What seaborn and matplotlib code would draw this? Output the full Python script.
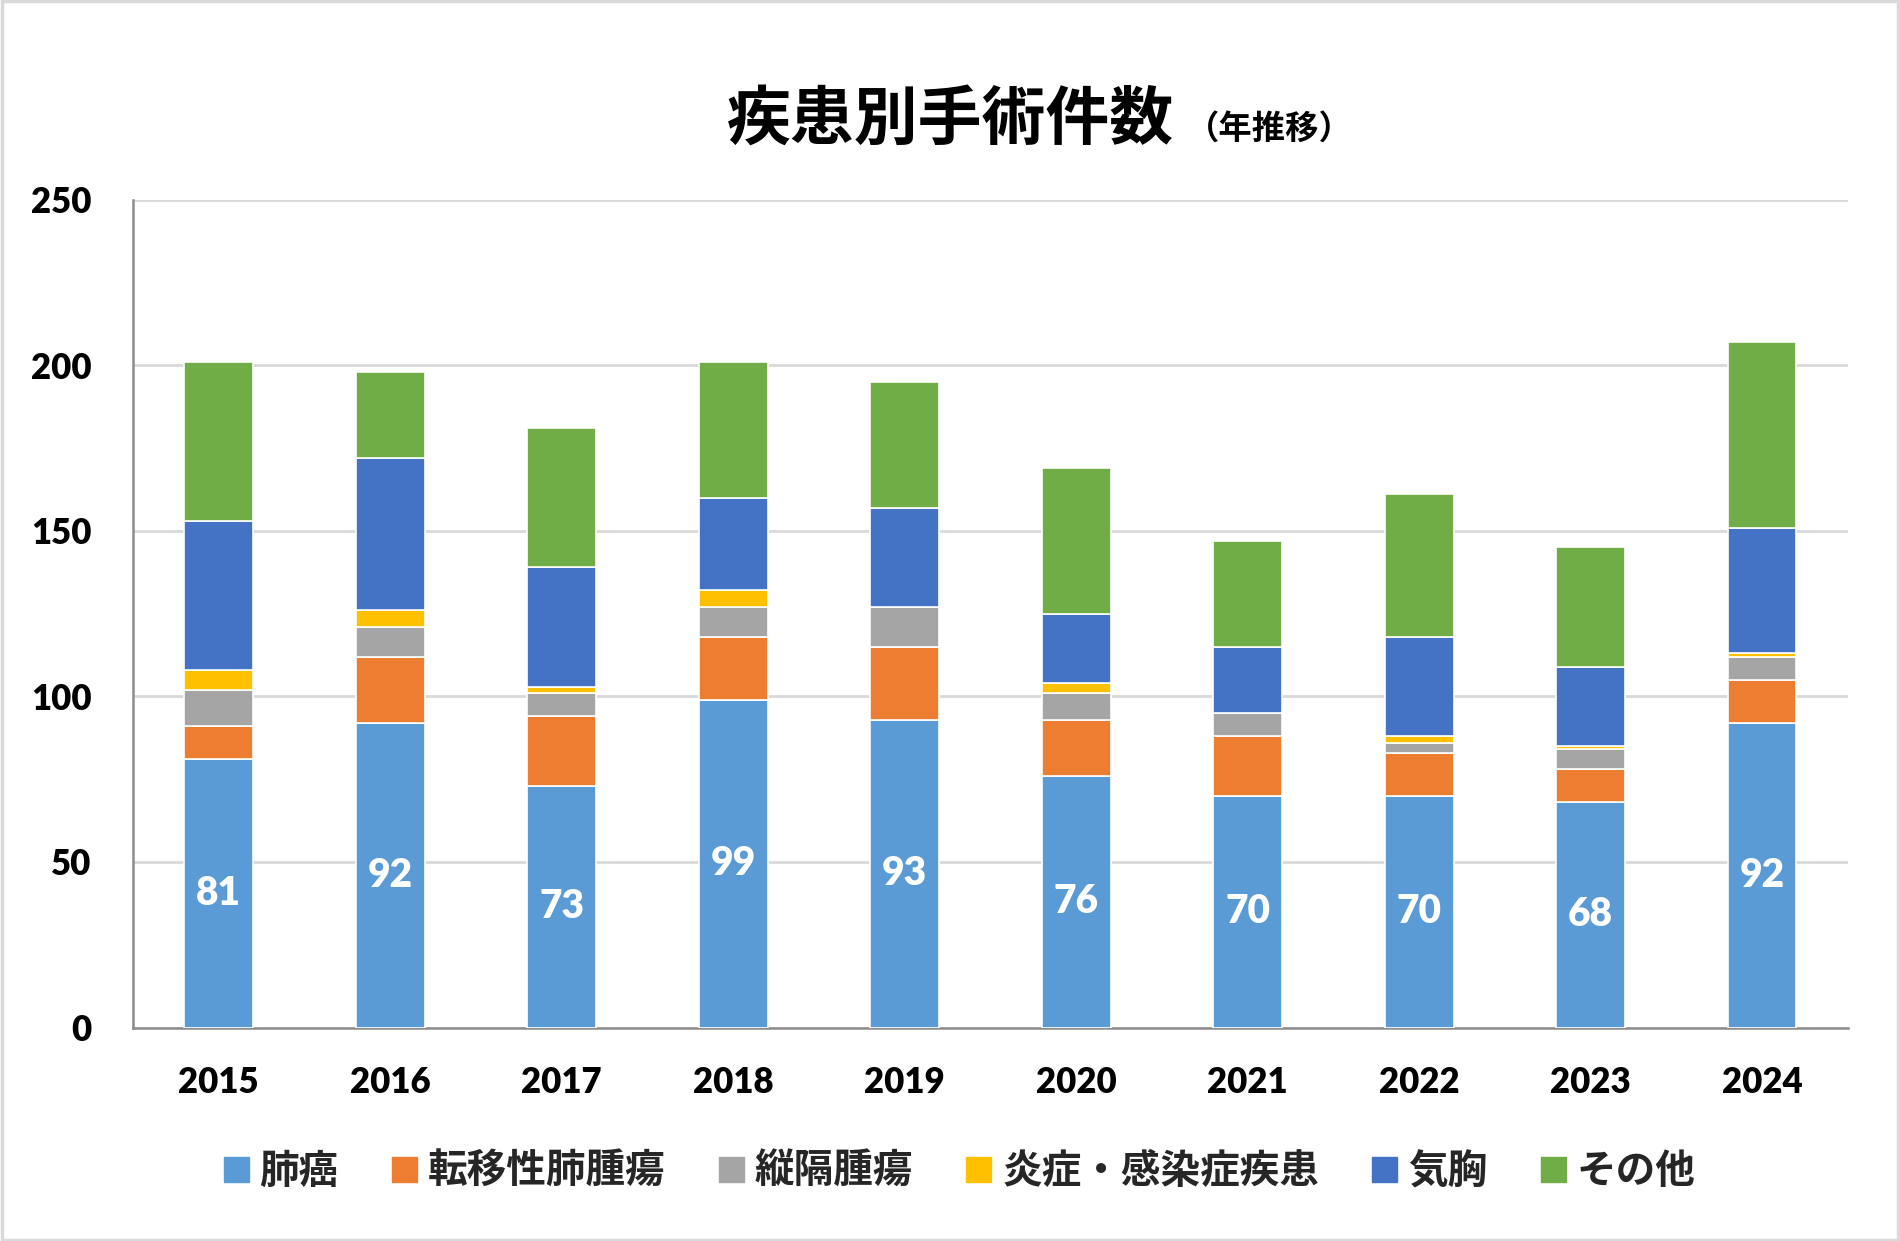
import numpy as np
import pandas as pd
import matplotlib
matplotlib.use("Agg")
import matplotlib.pyplot as plt
import seaborn as sns
from matplotlib.patches import Rectangle
from matplotlib.lines import Line2D

years = ["2015", "2016", "2017", "2018", "2019", "2020", "2021", "2022", "2023", "2024"]
lung_cancer = [81, 92, 73, 99, 93, 76, 70, 70, 68, 92]
metastatic = [10, 20, 21, 19, 22, 17, 18, 13, 10, 13]
mediastinal = [11, 9, 7, 9, 12, 8, 7, 3, 6, 7]
inflammatory = [6, 5, 2, 5, 0, 3, 0, 2, 1, 1]
pneumothorax = [45, 46, 36, 28, 30, 21, 20, 30, 24, 38]
others = [48, 26, 42, 41, 38, 44, 32, 43, 36, 56]

series_names = ["肺癌", "転移性肺腫瘍", "縦隔腫瘍", "炎症・感染症疾患", "気胸", "その他"]
series_values = [lung_cancer, metastatic, mediastinal, inflammatory, pneumothorax, others]
colors = ["#5B9BD5", "#ED7D31", "#A5A5A5", "#FFC000", "#4472C4", "#70AD47"]

sns.set_theme(style="white")
CJK = ["Noto Sans CJK JP", "DejaVu Sans"]
NUM = ["Lato", "Noto Sans CJK JP", "DejaVu Sans"]
plt.rcParams["font.family"] = CJK

fig = plt.figure(figsize=(19, 12.41), dpi=100)
ax = fig.add_axes([0.070, 0.172, 0.9026, 0.667])

cum = np.zeros(len(years))
containers = []
for name, vals, col in zip(series_names, series_values, colors):
    sub = pd.DataFrame({"year": years, "value": vals})
    sns.barplot(data=sub, x="year", y="value", order=years, bottom=cum,
                color=col, width=0.4, edgecolor="white", linewidth=1.2,
                saturation=1, errorbar=None, ax=ax, zorder=3)
    containers.append(ax.containers[-1])
    cum = cum + np.array(vals)

ax.bar_label(containers[0], labels=[str(v) for v in lung_cancer], label_type="center",
             color="white", fontsize=28, fontweight="heavy", family=NUM)

ax.set_ylim(0, 250)
ax.set_xlim(-0.5, len(years) - 0.5)
ax.set_yticks([0, 50, 100, 150, 200, 250])
ax.yaxis.grid(True, color="#D9D9D9", linewidth=2, zorder=0)
ax.set_axisbelow(True)
ax.set_xlabel("")
ax.set_ylabel("")
for s in ["top", "right"]:
    ax.spines[s].set_visible(False)
for s in ["left", "bottom"]:
    ax.spines[s].set_color("#8C8C8C")
    ax.spines[s].set_linewidth(1.8)
ax.tick_params(axis="both", length=0)
ax.tick_params(axis="x", pad=28)
ax.tick_params(axis="y", pad=30)
for lab in ax.get_xticklabels() + ax.get_yticklabels():
    lab.set_fontfamily(NUM)
    lab.set_fontweight("heavy")
    lab.set_fontsize(25)
    lab.set_color("black")

# Title
fig.text(0.618, 0.903, "疾患別手術件数", ha="right", va="center", fontsize=46,
         fontweight="bold", family=CJK, color="black")
fig.text(0.624, 0.895, "（年推移）", ha="left", va="center", fontsize=24,
         fontweight="bold", family=CJK, color="black")

# Legend
handles = [Line2D([0], [0], marker="s", linestyle="none", markersize=18,
                  markerfacecolor=c, markeredgecolor=c) for c in colors]
leg = fig.legend(handles, series_names, loc="center", bbox_to_anchor=(0.505, 0.056),
                 ncol=6, frameon=False, handlelength=0.6, handletextpad=0.3,
                 columnspacing=1.35,
                 prop={"family": CJK, "weight": "bold", "size": 28.5})

fig.patches.append(Rectangle((0.001, 0.001), 0.998, 0.998, transform=fig.transFigure,
                             fill=False, edgecolor="#D9D9D9", linewidth=2.5))

fig.savefig("out.png", dpi=100, facecolor="white")
